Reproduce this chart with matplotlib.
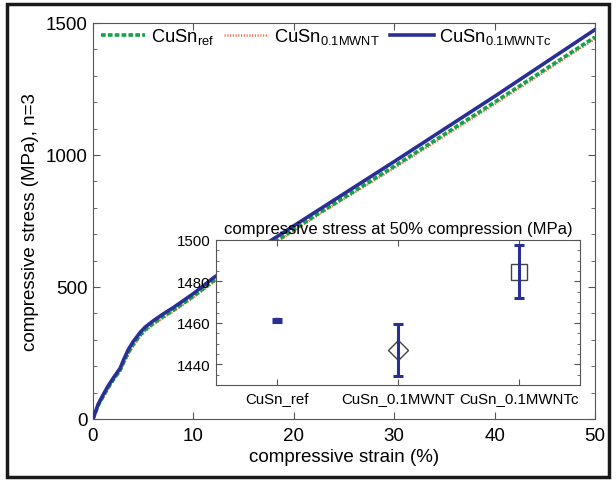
import matplotlib
matplotlib.use("Agg")
import matplotlib.pyplot as plt
from matplotlib.ticker import MultipleLocator
from matplotlib.patches import Rectangle

plt.rcParams['font.family'] = ['Liberation Sans', 'DejaVu Sans']
plt.rcParams['mathtext.fontset'] = 'custom'
plt.rcParams['mathtext.rm'] = 'Liberation Sans'
plt.rcParams['mathtext.it'] = 'Liberation Sans'

# main curves: strain (%) vs compressive stress (MPa)
strain = [0, 0.5, 1, 1.5, 2, 2.7, 3.0, 3.5, 4, 4.7, 5.2, 6.0, 7.0, 8, 10, 12, 14, 18, 22.6, 30, 40, 50]
stress_ref = [0, 50, 85, 118, 148, 185, 210, 250, 282, 318, 338, 362, 388, 412, 465, 523, 572, 668, 782, 957, 1200, 1447]
stress_mwnt = [0, 48, 82, 115, 145, 180, 205, 245, 277, 313, 333, 357, 383, 407, 460, 518, 566, 662, 777, 950, 1192, 1440]
stress_mwntc = [0, 55, 91, 125, 154, 192, 220, 262, 293, 328, 348, 372, 398, 422, 475, 535, 585, 683, 795, 975, 1222, 1475]
labels = ['CuSn$_{\\mathrm{ref}}$', 'CuSn$_{\\mathrm{0.1MWNT}}$', 'CuSn$_{\\mathrm{0.1MWNTc}}$']

# inset: stress at 50% compression
cats = ['CuSn_ref', 'CuSn_0.1MWNT', 'CuSn_0.1MWNTc']
means = [1461.3, 1446.8, 1484.7]
err_low = [0.8, 12.3, 12.8]
err_high = [0.8, 12.6, 13.0]

blue = '#2a2f96'
green = '#12a24a'
red = '#ee7a5a'
spine_c = '#555555'

fig = plt.figure(figsize=(6.16, 4.81), dpi=100)
ax = fig.add_axes([93/616, 1-420/481, (595-93)/616, (420-24)/481])

l1, = ax.plot(strain, stress_ref, color=green, lw=2.6, ls=(0, (1.3, 0.6)), label=labels[0], zorder=3)
l2, = ax.plot(strain, stress_mwnt, color=red, lw=1.8, ls=(0, (0.5, 0.6)), label=labels[1], zorder=2)
l3, = ax.plot(strain, stress_mwntc, color=blue, lw=2.6, label=labels[2], zorder=4)

ax.set_xlim(0, 50)
ax.set_ylim(0, 1500)
ax.xaxis.set_major_locator(MultipleLocator(10))
ax.yaxis.set_major_locator(MultipleLocator(500))
ax.yaxis.set_minor_locator(MultipleLocator(100))
ax.tick_params(which='both', direction='in', top=True, right=True, color=spine_c)
ax.tick_params(which='major', length=5, labelsize=13.5)
ax.tick_params(axis='x', which='major', pad=6)
ax.tick_params(axis='y', which='major', pad=4)
ax.tick_params(which='minor', length=3)
for s in ax.spines.values():
    s.set_color(spine_c)
ax.set_xlabel('compressive strain (%)', fontsize=13.5, labelpad=3)
ax.set_ylabel('compressive stress (MPa), n=3', fontsize=13.5, labelpad=5)

leg = ax.legend(handles=[l1, l2, l3], loc='upper left', ncol=3, frameon=False,
                fontsize=13.2, handlelength=2.4, handletextpad=0.3, columnspacing=0.55,
                bbox_to_anchor=(-0.005, 1.02), borderaxespad=0.2)

# inset
ai = fig.add_axes([216/616, 1-386/481, (580-216)/616, (386-241)/481])
xs = [1, 2, 3]
ai.plot([xs[0]], [means[0]], marker='s', ms=3, color='#333355', ls='none', zorder=2)
ai.plot([xs[1]], [means[1]], marker='D', ms=10.5, mfc='white', mec='#444444', mew=1, ls='none', zorder=2)
ai.plot([xs[2]], [means[2]], marker='s', ms=11, mfc='white', mec='#444444', mew=1, ls='none', zorder=2)
ai.errorbar(xs, means, yerr=[err_low, err_high], fmt='none', ecolor=blue, elinewidth=2.2,
            capsize=3.5, capthick=2.2, zorder=3)
ai.set_xlim(0.5, 3.5)
ai.set_ylim(1430, 1500)
ai.set_xticks(xs)
ai.set_xticklabels(cats)
ai.yaxis.set_major_locator(MultipleLocator(20))
ai.yaxis.set_minor_locator(MultipleLocator(5))
ai.tick_params(which='both', direction='in', top=True, right=True, color=spine_c)
ai.tick_params(which='major', length=4, labelsize=10.8, pad=4)
ai.tick_params(which='minor', length=2.5)
for s in ai.spines.values():
    s.set_color(spine_c)
ai.set_title('compressive stress at 50% compression (MPa)', fontsize=12, pad=5)

fig.patches.append(Rectangle((7/616, 1-478/481), (609-7)/616, (478-5)/481, fill=False,
                             lw=2.5, edgecolor='#1a1a1a', transform=fig.transFigure, figure=fig))

fig.savefig('out.png', dpi=100)
